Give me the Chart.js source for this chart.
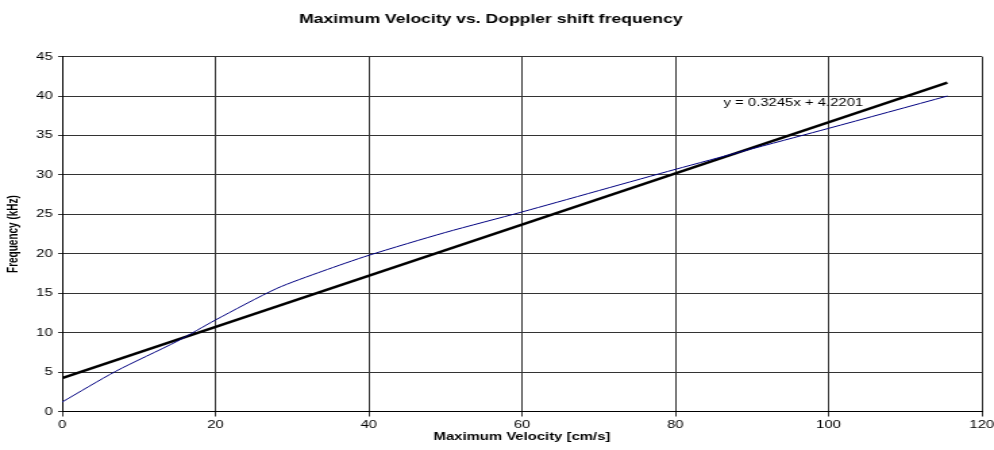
<!DOCTYPE html>
<html>
<head>
<meta charset="utf-8">
<script src="https://cdn.jsdelivr.net/npm/chart.js@4"></script>
<style>
  html, body { margin: 0; padding: 0; background: #fff; overflow: hidden; }
  /* the original picture is stretched sideways, so the chart is drawn narrow and widened */
  #wrap { width: 736px; height: 450px; transform: scaleX(1.3505); transform-origin: 0 0; }
</style>
</head>
<body>
<div id="wrap"><canvas id="chart"></canvas></div>
<script>
const velocity = [0, 7, 15, 20, 28, 34, 40, 50, 60, 80, 100, 115.5];
const frequency = [1.2, 5.1, 8.9, 11.6, 15.6, 17.8, 19.8, 22.7, 25.3, 30.7, 35.9, 40.0];

// linear trendline end points
const trendX = [0, 115.5];
const trendY = [4.22, 41.70];
const trendLabel = 'y = 0.3245x + 4.2201';

const xTicks = [0, 20, 40, 60, 80, 100, 120];
const yTicks = [0, 5, 10, 15, 20, 25, 30, 35, 40, 45];

const toPoints = (xs, ys) => xs.map((x, i) => ({ x, y: ys[i] }));

const FONT = 'Arial, "Liberation Sans", sans-serif';

const equationLabel = {
    id: 'equationLabel',
    afterDatasetsDraw(chart) {
        const { ctx, scales: { x, y } } = chart;
        ctx.save();
        ctx.font = '11px ' + FONT;
        ctx.fillStyle = '#000';
        ctx.textBaseline = 'middle';
        ctx.fillText(trendLabel, x.getPixelForValue(86.3), y.getPixelForValue(39.1));
        ctx.restore();
    },
};

new Chart(document.getElementById('chart'), {
    type: 'line',
    data: {
        datasets: [
            {
                label: 'Frequency',
                data: toPoints(velocity, frequency),
                borderColor: '#000080',
                borderWidth: 1,
                pointRadius: 0,
                tension: 0.25,
                fill: false,
            },
            {
                label: 'Linear',
                data: toPoints(trendX, trendY),
                borderColor: '#000',
                borderWidth: 2.5,
                pointRadius: 0,
                fill: false,
            },
        ],
    },
    options: {
        responsive: true,
        maintainAspectRatio: false,
        animation: false,
        layout: { padding: { left: 0, right: 9, top: 0, bottom: 4 } },
        plugins: {
            legend: { display: false },
            tooltip: { enabled: false },
            title: {
                display: true,
                text: 'Maximum Velocity vs. Doppler shift frequency',
                color: '#000',
                font: { family: FONT, size: 13, weight: 'bold' },
                padding: { top: 12, bottom: 29 },
            },
        },
        scales: {
            x: {
                type: 'linear',
                min: 0,
                max: 120,
                afterBuildTicks: s => { s.ticks = xTicks.map(v => ({ value: v })); },
                afterFit: s => { s.height = 34.5; s.paddingLeft = 0; s.paddingRight = 0; },
                ticks: { color: '#000', font: { family: FONT, size: 11 }, maxRotation: 0, padding: 2 },
                grid: { color: '#333', lineWidth: 1, tickLength: 5 },
                border: { color: '#000', width: 1 },
                title: {
                    display: true,
                    text: 'Maximum Velocity [cm/s]',
                    color: '#000',
                    font: { family: FONT, size: 11, weight: 'bold' },
                    padding: { top: 0, bottom: 2 },
                },
            },
            y: {
                min: 0,
                max: 45,
                afterBuildTicks: s => { s.ticks = yTicks.map(v => ({ value: v })); },
                afterFit: s => { s.width = 46; },
                ticks: { color: '#000', font: { family: FONT, size: 11 }, padding: 4 },
                grid: { color: '#333', lineWidth: 1, tickLength: 3 },
                border: { color: '#000', width: 1 },
                title: {
                    display: true,
                    text: 'Frequency (kHz)',
                    color: '#000',
                    font: { family: FONT, size: 10, weight: 'bold' },
                    padding: { top: 4, bottom: 0 },
                },
            },
        },
    },
    plugins: [equationLabel],
});
</script>
</body>
</html>
